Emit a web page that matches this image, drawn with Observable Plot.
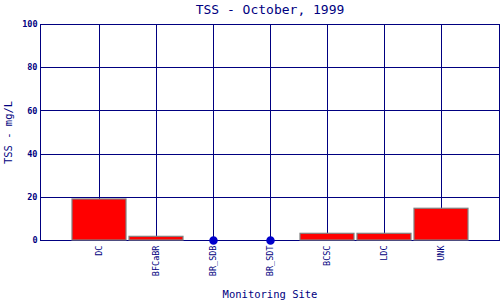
<!DOCTYPE html>
<html>
<head>
<meta charset="utf-8">
<script src="https://cdn.jsdelivr.net/npm/d3@7"></script>
<script src="https://cdn.jsdelivr.net/npm/@observablehq/plot@0.6"></script>
<style>
  html, body { margin: 0; padding: 0; background: #fff; }
  svg { overflow: visible; }
</style>
</head>
<body>
<div id="chart"></div>
<script>
const sites = ["DC", "BFCaBR", "BR_SDB", "BR_SDT", "BCSC", "LDC", "UNK"];
const tss = [19, 1.7, 0, 0, 3.1, 3.1, 14.7];
const yTicks = [0, 20, 40, 60, 80, 100];
const title = "TSS - October, 1999";
const xLabel = "Monitoring Site";
const yLabel = "TSS - mg/L";

const data = sites.map((s, i) => ({site: s, value: tss[i]}));
const navy = "#000080";
const font = "'DejaVu Sans Mono', 'Liberation Mono', monospace";

const chart = Plot.plot({
  width: 500,
  height: 300,
  marginTop: 24,
  marginLeft: 40,
  marginRight: 1,
  marginBottom: 60,
  style: {fontFamily: font, color: navy, background: "#fff"},
  x: {type: "band", domain: sites, paddingInner: 0.06, paddingOuter: 0.53, round: true},
  y: {domain: [0, 100]},
  marks: [
    Plot.ruleX(sites, {x: d => d, stroke: navy, strokeWidth: 1, shapeRendering: "crispEdges"}),
    Plot.ruleY(yTicks, {y: d => d, stroke: navy, strokeWidth: 1, shapeRendering: "crispEdges"}),
    Plot.frame({stroke: navy, strokeWidth: 1, shapeRendering: "crispEdges"}),
    Plot.barY(data.filter(d => d.value > 0), {x: "site", y: "value", fill: "#ff0000", stroke: "#808080", strokeWidth: 1.2}),
    Plot.dot(data.filter(d => d.value === 0), {x: "site", y: "value", r: 3.5, fill: "#0000cc", stroke: "#0000cc"}),
    Plot.axisY(yTicks, {tickSize: 0, tickPadding: 3, fontSize: 8.5, fontWeight: "bold", fill: navy, label: null}),
    Plot.axisX({tickSize: 0, tickPadding: 5, tickRotate: -90, fontSize: 8.5, fill: navy, label: null}),
    Plot.text([yLabel], {frameAnchor: "left", dx: -32, rotate: -90, textAnchor: "middle", fontSize: 10.5, fill: navy, fontFamily: font, lineAnchor: "middle"}),
    Plot.text([xLabel], {frameAnchor: "bottom", dy: 54, fontSize: 10.5, fill: navy, fontFamily: font, lineAnchor: "middle"}),
    Plot.text([title], {frameAnchor: "top", dy: -15, fontSize: 13, fill: navy, fontFamily: font, lineAnchor: "middle"})
  ]
});

document.getElementById("chart").appendChild(chart);
</script>
</body>
</html>
